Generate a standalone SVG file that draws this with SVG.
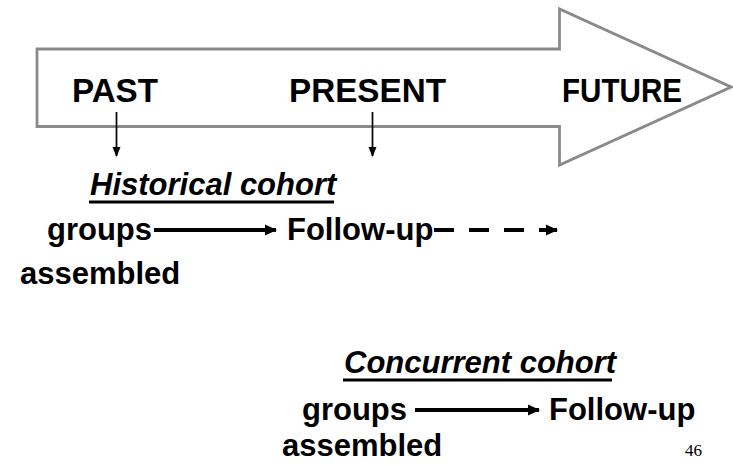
<svg xmlns="http://www.w3.org/2000/svg" width="733" height="465" viewBox="0 0 733 465">
  <defs>
    <style>
      .lbl { font-family: "Liberation Sans", Arial, sans-serif; font-weight: bold; fill: #000; }
      .big { font-size: 34px; }
      .mid { font-size: 31px; }
      .ital { font-style: italic; }
      .pg { font-family: "Liberation Serif", "Times New Roman", serif; font-size: 17px; fill: #000; }
      .thin { stroke: #000; stroke-width: 1.7; fill: none; }
      .thick { stroke: #000; stroke-width: 4; fill: none; }
      .uline { stroke: #000; stroke-width: 3; }
    </style>
    <marker id="tipS" markerWidth="10" markerHeight="12" refX="5" refY="9" orient="0" markerUnits="userSpaceOnUse">
      <path d="M1,0 L9,0 L5,10 Z" fill="#000"/>
    </marker>
    <marker id="tipB" markerWidth="13" markerHeight="13" refX="11" refY="6.5" orient="auto" markerUnits="userSpaceOnUse">
      <path d="M0,1 L12,6.5 L0,12 Z" fill="#000"/>
    </marker>
  </defs>

  <!-- timeline arrow -->
  <g id="timeline">
    <path d="M37,49 H559.5 V9 L731,87 L559.5,165 V126.5 H37 Z" fill="#fff" stroke="#8a8a8a" stroke-width="2.8"/>
  </g>

  <g id="past"><text class="lbl big" x="72" y="102" textLength="86" lengthAdjust="spacingAndGlyphs">PAST</text></g>
  <g id="present"><text class="lbl big" x="289" y="102" textLength="157" lengthAdjust="spacingAndGlyphs">PRESENT</text></g>
  <g id="future"><text class="lbl big" x="562" y="102" textLength="120" lengthAdjust="spacingAndGlyphs">FUTURE</text></g>

  <g id="historical">
    <text class="lbl ital mid" x="90" y="195">Historical cohort</text>
    <line class="uline" x1="89" y1="202" x2="334" y2="202"/>
  </g>
  <g id="hist-groups"><text class="lbl mid" x="47" y="240">groups</text></g>
  <g id="hist-assembled"><text class="lbl mid" x="20" y="284">assembled</text></g>
  <g id="hist-followup"><text class="lbl mid" x="287" y="240">Follow-up</text></g>

  <g id="concurrent">
    <text class="lbl ital mid" x="344" y="373">Concurrent cohort</text>
    <line class="uline" x1="343" y1="380" x2="612" y2="380"/>
  </g>
  <g id="conc-groups"><text class="lbl mid" x="302" y="420">groups</text></g>
  <g id="conc-assembled"><text class="lbl mid" x="282" y="456">assembled</text></g>
  <g id="conc-followup"><text class="lbl mid" x="549" y="420">Follow-up</text></g>

  <g id="page-number"><text class="pg" x="685" y="456">46</text></g>

  <!-- connectors -->
  <g id="connectors">
    <line class="thin" x1="116.5" y1="112" x2="116.5" y2="156" marker-end="url(#tipS)"/>
    <line class="thin" x1="372.5" y1="112" x2="372.5" y2="156" marker-end="url(#tipS)"/>
    <line class="thick" x1="154" y1="230" x2="276" y2="230" marker-end="url(#tipB)"/>
    <line class="thick" x1="434" y1="230" x2="557" y2="230" stroke-dasharray="20 15" marker-end="url(#tipB)"/>
    <line class="thick" x1="415" y1="410" x2="539" y2="410" marker-end="url(#tipB)"/>
  </g>
</svg>
